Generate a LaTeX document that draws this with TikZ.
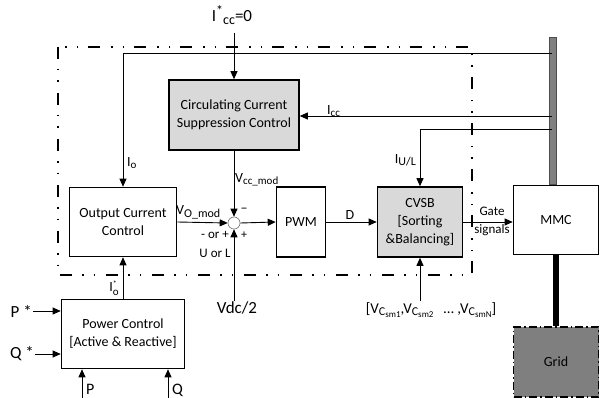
\documentclass[tikz,border=0pt]{standalone}
\usepackage{fontspec}
\setmainfont{Carlito}
\usetikzlibrary{
  arrows.meta,
  positioning,
  calc
}
\definecolor{mcBox}{HTML}{D9D9D9}
\definecolor{mcBus}{HTML}{808080}
\definecolor{mcGrid}{HTML}{7F7F7F}
\definecolor{mcEdge}{HTML}{4D4D4D}
\newcommand{\dn}[2][11]{\raisebox{-0.35ex}{\fontsize{#1}{#1}\selectfont #2}}
\newcommand{\upr}[2][11]{\raisebox{0.8ex}{\fontsize{#1}{#1}\selectfont #2}}
\tikzset{
  mcnode/.style={
    draw, line width=1.6pt, align=center, inner sep=0pt,
    font=\fontsize{14}{18}\selectfont
  },
  ctrlbox/.style={mcnode, fill=white},
  greybox/.style={mcnode, fill=mcBox},
  gridbox/.style={mcnode, fill=mcGrid, dash pattern=on 8pt off 3pt on 1.5pt off 3pt},
  busbar/.style={draw=mcEdge, fill=mcBus, minimum width=7pt, inner sep=0pt, line width=0.6pt},
  sumpt/.style={circle, draw=black!55, fill=white, minimum size=12pt, inner sep=0pt, line width=0.6pt},
  sig/.style={-{Triangle[length=8pt, width=7pt]}, line width=0.9pt},
  power/.style={line width=6pt},
  zone/.style={line width=1.8pt, dash pattern=on 12pt off 10pt on 1.5pt off 10pt on 1.5pt off 11pt},
  lbl/.style={font=\fontsize{14}{18}\selectfont, inner sep=1pt, align=center},
  biglbl/.style={font=\fontsize{17}{20}\selectfont, inner sep=1pt}
}

\begin{document}
\begin{tikzpicture}[x=1pt, y=-1pt]
  \useasboundingbox (0,0) rectangle (612,398);

  % control zone
  \draw[zone] (58,47) rectangle (472,275);

  % blocks
  \node[greybox, minimum width=130pt, minimum height=70pt] (ccsc) at (234,115) {Circulating Current\\Suppression Control};
  \node[ctrlbox, minimum width=107pt, minimum height=69pt] (occ) at (123,222) {Output Current\\Control};
  \node[sumpt] (sum) at (234,223) {};
  \node[ctrlbox, minimum width=49pt, minimum height=70pt] (pwm) at (301,222) {PWM};
  \node[greybox, minimum width=85pt, minimum height=70pt] (cvsb) at (420,222) {CVSB\\{[Sorting}\\\&Balancing{]}};
  \node[ctrlbox, minimum width=85pt, minimum height=69pt] (mmc) at (556,220) {MMC};
  \node[gridbox, minimum width=85pt, minimum height=70pt] (grid) at (556,362) {Grid};
  \node[ctrlbox, minimum width=123pt, minimum height=69pt] (pc) at (123,334) {Power Control\\{[Active \& Reactive]}};
  \node[busbar, anchor=south, minimum height=147pt] (bus) at ([xshift=-3.5pt]mmc.north) {};

  % taps on the bus
  \coordinate (tapO) at (552,53);
  \coordinate (tapCC) at (552,116);
  \coordinate (tapUL) at (552,129);

  % outer labels
  \node[biglbl] (iccref) at (232,15) {I\upr[14]{*}\dn[14]{cc}=0};
  \node[biglbl] (vdc) at (237,308) {Vdc/2};
  \node[lbl, font=\fontsize{15}{18}\selectfont] (vcsm) at (431,310) {[V\dn[12]{C\dn[9]{sm1}},V\dn[12]{C\dn[9]{sm2}}~~~\dots~,V\dn[12]{C\dn[9]{smN}}]};
  \node[biglbl, anchor=east] (pstar) at (33,311) {P *};
  \node[biglbl, anchor=east] (qstar) at (35,354) {Q *};
  \coordinate (pin) at (82,400);
  \coordinate (qin) at (168,400);

  % feedback and references
  \draw[sig] ([yshift=-7pt]iccref.south -| ccsc.north) -- (ccsc.north);
  \draw[sig] (tapO) -| (occ.north);
  \draw[sig] (tapCC) -- (tapCC -| ccsc.east);
  \draw[sig] (tapUL) -| (cvsb.north);
  \draw[sig] (ccsc.south) -- (sum.north);

  % forward path
  \draw[sig] (occ.east) -- (sum.west);
  \draw[sig] (sum.east) -- (pwm.west);
  \draw[sig] (pwm.east) -- (cvsb.west);
  \draw[sig] (cvsb.east) -- (cvsb.east -| mmc.west);
  \draw[sig] (vdc.north -| sum.south) -- (sum.south);
  \draw[sig] (vcsm.north -| cvsb.south) -- (cvsb.south);
  \draw[sig] (pc.north) -- (occ.south);
  \draw[sig] (pstar.east) -- (pstar.east -| pc.west);
  \draw[sig] (qstar.east) -- (qstar.east -| pc.west);
  \draw[sig] (pin) -- (pin |- pc.south);
  \draw[sig] (qin) -- (qin |- pc.south);
  \draw[power] (mmc.south) -- (grid.north);

  % signal labels
  \node[lbl, anchor=west] (lblio) at (126,163) {I\dn{o}};
  \node[lbl, anchor=south west] (lblicc) at (326,118) {I\dn{cc}};
  \node[lbl, anchor=east] (lbliul) at (417,160) {I\dn[12]{U/L}};
  \node[lbl, anchor=west] (lblvcc) at (234,180) {V\dn{cc\_mod}};
  \node[lbl, anchor=south west] (lblvo) at (175,220) {V\dn[12]{O\_mod}};
  \node[lbl] (lblminus) at (244,210) {\textendash};
  \node[lbl, font=\fontsize{12}{14}\selectfont] (lblplus) at (244,235) {+};
  \node[lbl, font=\fontsize{13}{14}\selectfont] (lblsign) at (215,235) {- or +};
  \node[lbl, font=\fontsize{13}{14}\selectfont] (lblarm) at (215,253) {U or L};
  \node[lbl, anchor=south] (lbld) at (350,221) {D};
  \node[lbl, font=\fontsize{13}{18}\selectfont] (lblgate) at (492,221) {Gate\\signals};
  \node[lbl] (lblioref) at (114,288) {I\raisebox{-0.6ex}{\shortstack[l]{\fontsize{8}{8}\selectfont *\\[1pt]\fontsize{11}{11}\selectfont o}}};
  \node[lbl, font=\fontsize{16}{18}\selectfont, anchor=base west] (lblp) at (85,394) {P};
  \node[lbl, font=\fontsize{16}{18}\selectfont, anchor=base west] (lblq) at (171,394) {Q};
\end{tikzpicture}
\end{document}
